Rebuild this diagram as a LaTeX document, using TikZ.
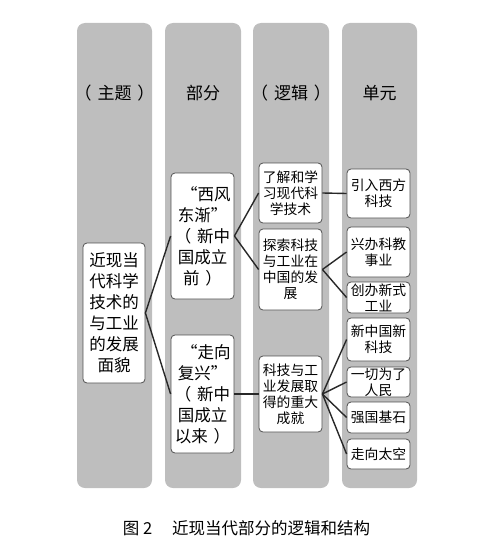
\documentclass[tikz,border=0pt]{standalone}
\usepackage{fontspec}
\setmainfont{Noto Sans CJK SC}
\definecolor{colgray}{RGB}{190,190,190}
\definecolor{boxline}{RGB}{80,80,80}
\definecolor{linkcol}{RGB}{40,40,40}
\newcommand{\lpar}{（\hspace{.35em}}
\newcommand{\rpar}{\hspace{.35em}）}
\begin{document}
\begin{tikzpicture}[x=1pt,y=-1pt,
col/.style={fill=colgray,rounded corners=8pt},
head/.style={font=\fontsize{17}{21}\selectfont},
box/.style={draw=boxline,fill=white,rounded corners=4pt,line width=0.8pt,align=center,inner sep=0pt},
bigbox/.style={box,font=\fontsize{16.5}{21}\selectfont},
smallbox/.style={box,minimum width=63pt,font=\fontsize{13.8}{16}\selectfont},
link/.style={draw=linkcol,line width=1.4pt}]

\useasboundingbox (0,0) rectangle (493,559);

\fill[col] (77,23) rectangle (152,488);
\fill[col] (165,23) rectangle (241,488);
\fill[col] (253,23) rectangle (329,488);
\fill[col] (342,23) rectangle (417,488);

\node[head] (h1) at (114.5,93) {\lpar 主题\rpar};
\node[head] (h2) at (203,93) {部分};
\node[head] (h3) at (291,93) {\lpar 逻辑\rpar};
\node[head] (h4) at (379.5,93) {单元};

\node[bigbox,minimum width=62pt,minimum height=140pt] (theme) at (114,313)
  {近现当\\代科学\\技术的\\与工业\\的发展\\面貌};

\node[bigbox,minimum width=63pt,minimum height=126pt] (part1) at (202.5,236)
  {\hspace{.4em}“西风\\东渐”\\\lpar 新中\\国成立\\前\rpar};
\node[bigbox,minimum width=63pt,minimum height=118pt] (part2) at (202.5,394)
  {\hspace{.4em}“走向\\复兴”\\\lpar 新中\\国成立\\以来\rpar};

\node[smallbox,minimum height=60pt] (logic1) at (290.5,193) {了解和学\\习现代科\\学技术};
\node[smallbox,minimum height=81pt] (logic2) at (290.5,269.5) {探索科技\\与工业在\\中国的发\\展};
\node[smallbox,minimum height=76pt] (logic3) at (290.5,394) {科技与工\\业发展取\\得的重大\\成就};

\node[smallbox,minimum height=49pt] (unit1) at (378.5,193.5) {引入西方\\科技};
\node[smallbox,minimum height=50pt] (unit2) at (378.5,252) {兴办科教\\事业};
\node[smallbox,minimum height=31pt] (unit3) at (378.5,297.5) {创办新式\\工业};
\node[smallbox,minimum height=43pt] (unit4) at (378.5,339.5) {新中国新\\科技};
\node[smallbox,minimum height=30pt] (unit5) at (378.5,382) {一切为了\\人民};
\node[smallbox,minimum height=31pt] (unit6) at (378.5,417.5) {强国基石};
\node[smallbox,minimum height=30pt] (unit7) at (378.5,454) {走向太空};

\draw[link] (theme.east) -- (part1.west);
\draw[link] (theme.east) -- (part2.west);
\draw[link] (part1.east) -- (logic1.west);
\draw[link] (part1.east) -- (logic2.west);
\draw[link] (part2.east) -- (logic3.west);
\draw[link] (logic1.east) -- (unit1.west);
\foreach \u in {unit2,unit3}{
\draw[link] (logic2.east) -- (\u.west);
}
\foreach \u in {unit4,unit5,unit6,unit7}{
\draw[link] (logic3.east) -- (\u.west);
}

\node[font=\fontsize{16.5}{20}\selectfont] (caption) at (246.5,528) {图 2\hspace{1.2em}近现当代部分的逻辑和结构};

\end{tikzpicture}
\end{document}
